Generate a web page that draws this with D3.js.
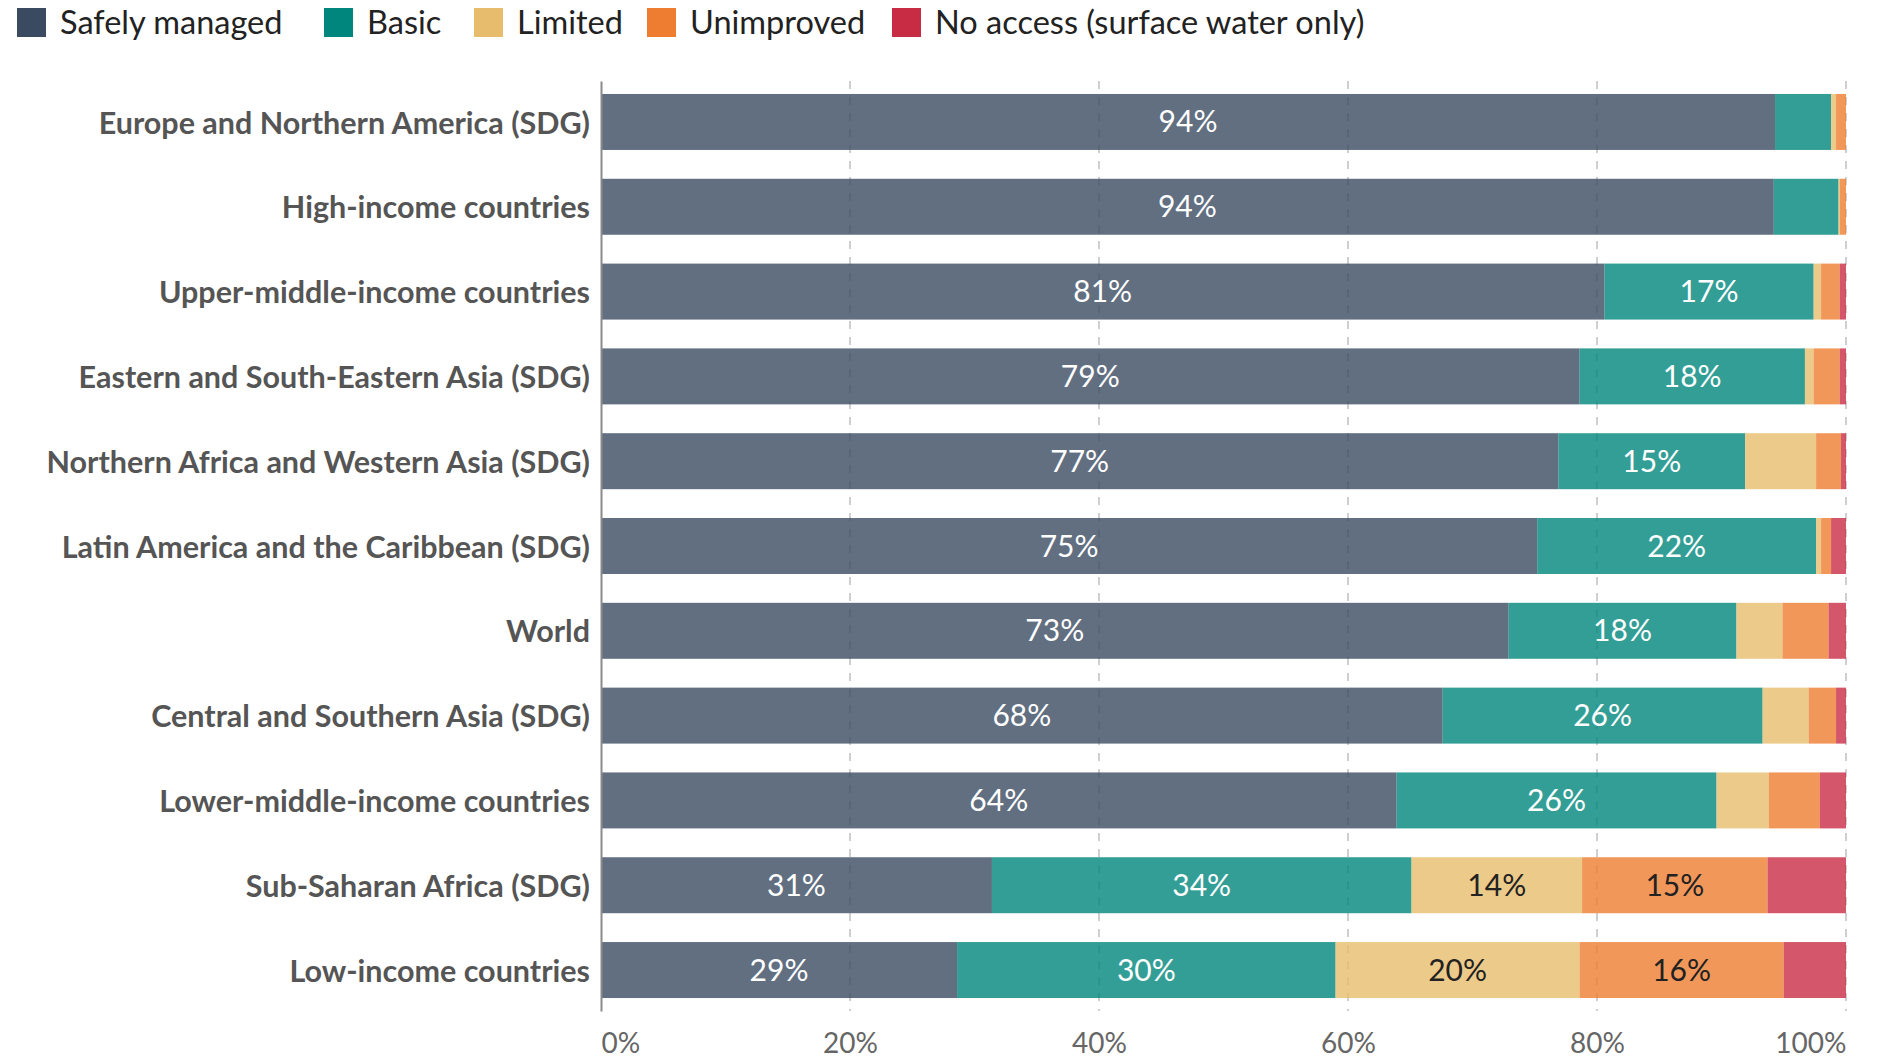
<!DOCTYPE html>
<html>
<head>
<meta charset="utf-8">
<script src="https://d3js.org/d3.v7.min.js"></script>
<style>
  body { margin: 0; background: #fff; }
  svg { display: block; font-family: Lato, "Open Sans", sans-serif; }
</style>
</head>
<body>
<svg id="chart" width="1880" height="1060"></svg>
<script>
// drinking water service levels, share of population (%)
var regions = [
  "Europe and Northern America (SDG)",
  "High-income countries",
  "Upper-middle-income countries",
  "Eastern and South-Eastern Asia (SDG)",
  "Northern Africa and Western Asia (SDG)",
  "Latin America and the Caribbean (SDG)",
  "World",
  "Central and Southern Asia (SDG)",
  "Lower-middle-income countries",
  "Sub-Saharan Africa (SDG)",
  "Low-income countries"
];

var levels = ["Safely managed", "Basic", "Limited", "Unimproved", "No access (surface water only)"];

var safelyManaged = [94.3, 94.2, 80.6, 78.6, 76.9, 75.2, 72.9, 67.6, 63.9, 31.4, 28.6];
var basic         = [4.5, 5.2, 16.8, 18.1, 15.0, 22.4, 18.3, 25.7, 25.7, 33.7, 30.4];
var limited       = [0.4, 0.1, 0.6, 0.7, 5.7, 0.4, 3.7, 3.7, 4.2, 13.7, 19.6];
var unimproved    = [0.8, 0.5, 1.5, 2.1, 2.0, 0.8, 3.7, 2.2, 4.1, 14.9, 16.4];
var noAccess      = [0.0, 0.0, 0.5, 0.5, 0.4, 1.2, 1.4, 0.8, 2.1, 6.3, 5.0];

var tickValues = [0, 20, 40, 60, 80, 100];

var colors = ["#3a4b61", "#00867c", "#e7bd6d", "#ef7d31", "#c82c45"];
var labelColors = ["#fff", "#fff", "#222", "#222", "#fff"];

var svg = d3.select("#chart"),
    margin = {left: 601, right: 34, top: 81, bottom: 49},
    width = +svg.attr("width"),
    height = +svg.attr("height");

var rows = regions.map(function(r, i) {
  return {
    region: r,
    "Safely managed": safelyManaged[i],
    "Basic": basic[i],
    "Limited": limited[i],
    "Unimproved": unimproved[i],
    "No access (surface water only)": noAccess[i]
  };
});

var series = d3.stack().keys(levels)(rows);

var x = d3.scaleLinear()
    .domain([0, 100])
    .range([margin.left, width - margin.right]);

var y = d3.scaleBand()
    .domain(regions)
    .range([margin.top, height - margin.bottom])
    .paddingInner(0.34)
    .paddingOuter(0.153);

var color = d3.scaleOrdinal().domain(levels).range(colors);

// dashed grid behind the bars
svg.append("g")
    .attr("class", "grid")
  .selectAll("line")
  .data(tickValues.slice(1))
  .enter().append("line")
    .attr("x1", function(d) { return x(d); })
    .attr("x2", function(d) { return x(d); })
    .attr("y1", margin.top)
    .attr("y2", height - margin.bottom)
    .attr("stroke", "#cfcfd2")
    .attr("stroke-width", 2)
    .attr("stroke-dasharray", "8,8");

var layer = svg.append("g")
  .selectAll("g")
  .data(series)
  .enter().append("g")
    .attr("fill", function(d) { return color(d.key); })
    .attr("fill-opacity", 0.8);

layer.selectAll("rect")
  .data(function(d) { return d; })
  .enter().append("rect")
    .attr("x", function(d) { return x(d[0]); })
    .attr("y", function(d) { return y(d.data.region); })
    .attr("width", function(d) { return x(d[1]) - x(d[0]); })
    .attr("height", y.bandwidth());

// value labels only where the segment is wide enough
svg.append("g")
  .selectAll("g")
  .data(series)
  .enter().append("g")
    .attr("fill", function(d, i) { return labelColors[i]; })
  .selectAll("text")
  .data(function(d) { return d.filter(function(s) { return s[1] - s[0] >= 10; }); })
  .enter().append("text")
    .attr("x", function(d) { return (x(d[0]) + x(d[1])) / 2; })
    .attr("y", function(d) { return y(d.data.region) + y.bandwidth() / 2; })
    .attr("dy", "0.35em")
    .attr("text-anchor", "middle")
    .attr("font-size", 30)
    .text(function(d) { return Math.round(d[1] - d[0]) + "%"; });

// category axis
var yAxis = svg.append("g")
    .attr("transform", "translate(" + margin.left + ",0)")
    .call(d3.axisLeft(y).tickSize(0).tickPadding(11));
yAxis.select(".domain")
    .attr("stroke", "#8a8a8a")
    .attr("stroke-width", 2);
yAxis.selectAll("text")
    .attr("font-size", 30.5)
    .attr("font-weight", "bold")
    .attr("font-family", "Lato, sans-serif")
    .attr("fill", "#555")
    .attr("dy", "0.38em");

// percent axis
var xAxis = svg.append("g")
    .attr("transform", "translate(0," + (height - margin.bottom) + ")")
    .call(d3.axisBottom(x).tickValues(tickValues).tickSize(0).tickPadding(22)
      .tickFormat(function(d) { return d + "%"; }));
xAxis.select(".domain").remove();
xAxis.selectAll("text")
    .attr("font-size", 28)
    .attr("font-family", "Lato, sans-serif")
    .attr("fill", "#666")
    .attr("text-anchor", function(d, i) {
      return i === 0 ? "start" : (i === tickValues.length - 1 ? "end" : "middle");
    });

// legend across the top
var legendX = [17, 324, 474, 647, 892];
var legend = svg.append("g")
    .attr("class", "legend")
  .selectAll("g")
  .data(levels)
  .enter().append("g")
    .attr("transform", function(d, i) { return "translate(" + legendX[i] + ",8)"; });

legend.append("rect")
    .attr("width", 29)
    .attr("height", 29)
    .attr("fill", function(d) { return color(d); });

legend.append("text")
    .attr("x", 43)
    .attr("y", 14.5)
    .attr("dy", "0.35em")
    .attr("font-size", 32.5)
    .attr("fill", "#222")
    .text(function(d) { return d; });
</script>
</body>
</html>
